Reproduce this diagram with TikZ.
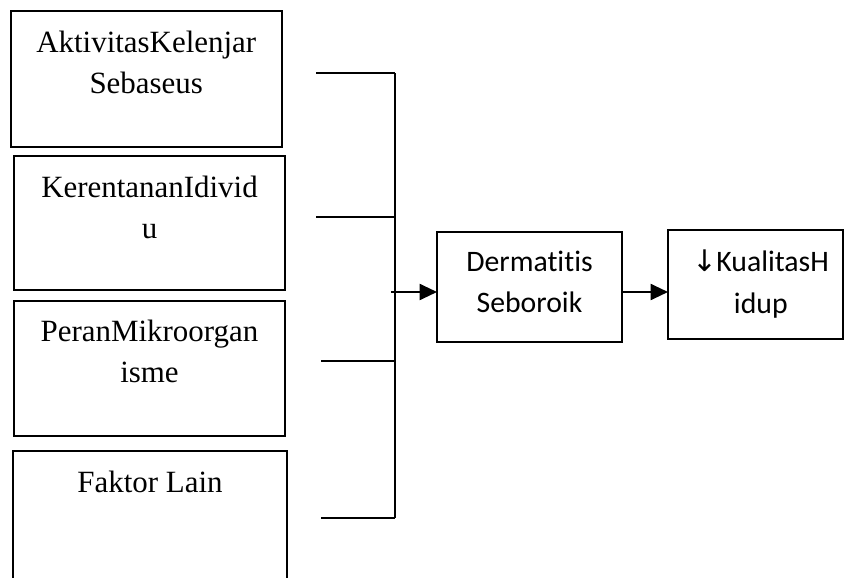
\documentclass[tikz,border=0pt]{standalone}
\usepackage{fontspec}
\setmainfont{Liberation Serif}
\newfontfamily\calibriFont[Ligatures={NoCommon}]{Carlito}
\newfontfamily\arrowFont{DejaVu Sans}
\usetikzlibrary{arrows.meta,calc}

\begin{document}
\begin{tikzpicture}[x=0.75pt, y=-0.75pt,
    box/.style={draw=borderColour, line width=1.5pt, inner sep=0pt, outer sep=0pt},
    serifText/.style={anchor=north, align=center, inner sep=0pt, font=\fontsize{23.2}{30.75}\selectfont},
    sansText/.style={anchor=north, align=center, inner sep=0pt, font=\calibriFont\fontsize{22.3}{31.3}\selectfont},
    link/.style={draw=borderColour, line width=1.5pt},
    arr/.style={link, -{Triangle[length=13pt,width=12pt]}}]
    \definecolor{borderColour}{HTML}{000000}

    \useasboundingbox (0,0) rectangle (847,578);

    % Factor boxes
    \node[box, minimum width=203.6pt, minimum height=102pt] (aktivitas) at (146.25,79) {};
    \node[box, minimum width=203.25pt, minimum height=100.5pt] (kerentanan) at (149.5,223) {};
    \node[box, minimum width=203.25pt, minimum height=101.25pt] (peran) at (149.5,368) {};
    \node[box, minimum width=205.5pt, minimum height=111.75pt] (faktor) at (150,525.5) {};

    \node[serifText, yshift=-14.8pt] (aktivitasText) at (aktivitas.north) {AktivitasKelenjar\\Sebaseus};
    \node[serifText, yshift=-14.8pt] (kerentananText) at (kerentanan.north) {KerentananIdivid\\u};
    \node[serifText, yshift=-14.8pt] (peranText) at (peran.north) {PeranMikroorgan\\isme};
    \node[serifText, yshift=-14.8pt] (faktorText) at (faktor.north) {Faktor Lain};

    % Outcome boxes
    \node[box, minimum width=138.75pt, minimum height=82.5pt] (dermatitis) at (529.5,286.7) {};
    \node[box, minimum width=131.25pt, minimum height=81.75pt] (kualitas) at (755.5,284.5) {};

    \node[sansText, yshift=-14pt] (dermatitisText) at (dermatitis.north) {Dermatitis\\Seboroik};
    \node[sansText, yshift=-15pt, xshift=4pt] (kualitasText) at (kualitas.north) {{\arrowFont ↓}\kern-1pt KualitasH\\idup};

    % Bus lines
    \coordinate (inA) at (316,73);
    \coordinate (inB) at (316,217);
    \coordinate (inC) at (321,361);
    \coordinate (inD) at (321,518);
    \coordinate (busTop) at (395,73);
    \coordinate (busBottom) at (395,518);
    \coordinate (busOut) at (391,292);

    \draw[link] (inA) -- (busTop);
    \draw[link] (inB) -- (inB -| busTop);
    \draw[link] (inC) -- (inC -| busTop);
    \draw[link] (inD) -- (busBottom);
    \draw[link] (busTop) -- (busBottom);

    % Arrows
    \draw[arr] (busOut) -- (busOut -| dermatitis.west);
    \draw[arr] (busOut -| dermatitis.east) -- (busOut -| kualitas.west);

\end{tikzpicture}
\end{document}
